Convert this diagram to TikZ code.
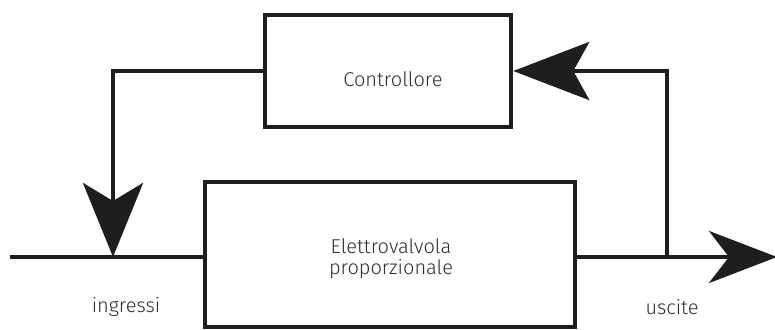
\documentclass[tikz,border=0pt]{standalone}
\usepackage{fontspec}
\setmainfont{Fira Sans Light}
\usetikzlibrary{arrows.meta}
\definecolor{ink}{HTML}{1E1E1E}
\definecolor{txt}{HTML}{2E2E2E}
\tikzset{
  box/.style={draw=ink, line width=4.5pt, fill=none, inner sep=0pt},
  wire/.style={draw=ink, line width=4.5pt},
  bigtip/.style={-{Stealth[length=74pt, width=60pt, inset=18pt]}},
  lab/.style={text=txt, font=\fontsize{20}{21}\selectfont, inner sep=0pt, align=center},
}
\begin{document}
\begin{tikzpicture}[x=1pt, y=-1pt]
\useasboundingbox (0,0) rectangle (775,329);
% boxes
\node[box, minimum width=246pt, minimum height=112pt] (ctrl) at (388,71) {};
\node[box, minimum width=370pt, minimum height=145pt] (valve) at (390,254.5) {};
% labels
\node[lab] (tctrl) at (393,79) {Controllore};
\node[lab] (tvalve) at (391,259) {Elettrovalvola\\proporzionale};
\node[lab] (tin) at (126,307) {ingressi};
\node[lab] (tout) at (672,307) {uscite};
% coordinates
\coordinate (in) at (10,257);
\coordinate (jin) at (113,257);
\coordinate (jout) at (667,257);
\coordinate (out) at (777,257);
% connectors
\draw[wire] (in) -- (in -| valve.west);
\draw[wire, bigtip] (ctrl.west) -| (jin);
\draw[wire, -{Stealth[length=68pt, width=52pt, inset=20pt]}] (jin -| valve.east) -- (out);
\draw[wire, -{Stealth[length=76pt, width=58pt, inset=16pt]}] (jout) |- (ctrl.east);
\end{tikzpicture}
\end{document}
